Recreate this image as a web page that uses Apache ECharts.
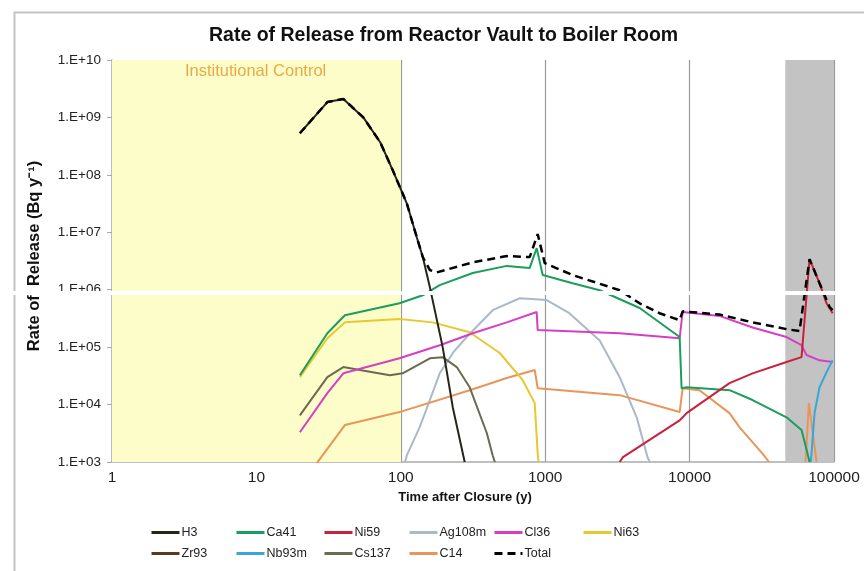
<!DOCTYPE html>
<html><head><meta charset="utf-8">
<script src="https://cdn.jsdelivr.net/npm/echarts@6/dist/echarts.min.js"></script>
<style>html,body{margin:0;padding:0;background:#fff}#c{width:864px;height:571px}</style>
</head><body><div id="c"></div>
<script>
// ---- data (years, Bq/y) ----
const xTicks = [1, 10, 100, 1000, 10000, 100000];
const yTicks = [1e3, 1e4, 1e5, 1e6, 1e7, 1e8, 1e9, 1e10];
const institutionalControl = [1, 100];
const shadedPeriod = [46000, 100000];

const h3 = [[20,5.3e8],[31,1.85e9],[40,2.1e9],[55,1.0e9],[72,3.7e8],[88,1.2e8],[110,3.2e7],[129,8.2e6],[142,3.7e6],[159,1.1e6],[195,1.0e5],[229,9e3],[277,1e3]];
const ca41 = [[20,3.25e4],[31,1.75e5],[41,3.6e5],[98,5.8e5],[142,8.0e5],[186,1.2e6],[315,1.95e6],[542,2.6e6],[781,2.4e6],[873,5.3e6],[961,1.8e6],[1549,1.3e6],[2384,9.8e5],[4508,4.8e5],[8530,1.5e5],[8800,1.93e4],[9530,2.0e4],[18900,1.78e4],[27300,1.2e4],[46900,6.0e3],[59600,3.6e3],[65600,1.4e3],[67700,1e3]];
const ni59 = [[3281,1e3],[3437,1.2e3],[8530,5.3e3],[8950,6.0e3],[9530,7.1e3],[18900,2.36e4],[27300,3.5e4],[46900,5.5e4],[59600,6.7e4],[67700,3.4e6],[79400,1.3e6],[88800,5.8e5],[97800,3.9e5]];
const ag108m = [[107,1e3],[110,1.3e3],[135,4e3],[159,1.2e4],[186,3.5e4],[230,8e4],[286,1.5e5],[433,4.4e5],[666,7.1e5],[1024,6.6e5],[1470,3.9e5],[2384,1.3e5],[3281,3.0e4],[4300,6e3],[5120,1.2e3],[5300,1e3]];
const cl36 = [[20,3.3e3],[31,1.58e4],[40,3.5e4],[98,6.4e4],[186,1.08e5],[315,1.75e5],[542,2.7e5],[873,4.1e5],[887,1.98e5],[3281,1.75e5],[8530,1.43e5],[8950,4.1e5],[16100,3.5e5],[27300,2.2e5],[46900,1.5e5],[59600,1.08e5],[64500,7.3e4],[79400,5.9e4],[97800,5.5e4]];
const ni63 = [[20,3.0e4],[31,1.43e5],[41,2.7e5],[98,3.1e5],[166,2.7e5],[300,1.82e5],[484,7.9e4],[699,2.66e4],[846,1.06e4],[887,1.4e3],[900,1e3]];
const zr93 = [];
const nb93m = [[69000,1e3],[69900,1.4e3],[73300,7.1e3],[79400,2.0e4],[88800,3.66e4],[97800,5.9e4]];
const cs137 = [[20,6.5e3],[31,3.0e4],[40,4.5e4],[52,4.0e4],[84,3.25e4],[103,3.5e4],[159,6.4e4],[195,6.7e4],[244,4.5e4],[300,2.0e4],[394,3.2e3],[433,1.3e3],[448,1e3]];
const c14 = [[20,380],[41,4.4e3],[98,7.4e3],[300,1.78e4],[542,2.9e4],[846,4.0e4],[887,1.93e4],[3281,1.46e4],[8530,7.4e3],[8950,1.93e4],[11700,1.78e4],[18900,7.1e3],[22200,4.0e3],[32000,1.4e3],[35500,1e3]];
const c14late = [[63500,1e3],[67000,1.06e4],[75700,1e3]];
const total = [[20,5.3e8],[31,1.85e9],[40,2.1e9],[55,1.0e9],[72,3.7e8],[88,1.2e8],[110,3.2e7],[129,8.2e6],[142,3.7e6],[159,2.2e6],[177,2.0e6],[315,3.0e6],[542,3.85e6],[781,3.7e6],[887,9.3e6],[993,2.9e6],[1549,1.8e6],[3281,9.8e5],[4508,5.8e5],[6190,3.9e5],[8530,2.95e5],[8950,4.2e5],[16100,3.7e5],[27300,2.7e5],[46900,2.06e5],[57700,1.9e5],[67700,3.4e6],[79400,1.3e6],[93200,5.0e5],[97800,4.4e5]];

const FONT = 'Liberation Sans, Arial, sans-serif';
const colors = {H3:'#262618', Ca41:'#1a9e5c', Ni59:'#c8213c', Ag108m:'#a9b9c8', Cl36:'#d63fc4', Ni63:'#e6c92e', Zr93:'#5b3b1e', Nb93m:'#3aa6d8', Cs137:'#6b6b4f', C14:'#e8955a', Total:'#000000'};

function line(name, data, extra) {
  return Object.assign({
    name, type:'line', data, symbol:'none', showSymbol:false, clip:true, z:3,
    lineStyle:{color:colors[name], width:2}, itemStyle:{color:colors[name]}
  }, extra || {});
}

const series = [
  { name:'bg', type:'line', data:[], z:-1, silent:true,
    markArea:{ silent:true, data:[
      [{xAxis:institutionalControl[0], itemStyle:{color:'#fdfdc9'}},{xAxis:institutionalControl[1]}],
      [{xAxis:shadedPeriod[0], itemStyle:{color:'#c3c3c3'}},{xAxis:shadedPeriod[1]}]
    ]}},
  line('Ag108m', ag108m),
  line('C14', c14),
  line('C14', c14late),
  line('Cs137', cs137),
  line('Ni63', ni63),
  line('Cl36', cl36),
  line('Nb93m', nb93m),
  line('Zr93', zr93),
  line('Ca41', ca41),
  line('Ni59', ni59),
  line('H3', h3),
  line('Total', total, {lineStyle:{color:'#000', width:2.5, type:[8,5]}, z:4})
];

const legendRows = [
  [['H3',145],['Ca41',230],['Ni59',318],['Ag108m',403],['Cl36',488],['Ni63',577]],
  [['Zr93',145],['Nb93m',230],['Cs137',318],['C14',403],['Total',488]]
];
const legends = [];
legendRows.forEach((row, r) => row.forEach(([n, left]) => legends.push({
  data:[n], left, top: r === 0 ? 521 : 542, itemWidth:28, itemHeight:14, itemGap:2,
  itemStyle:{opacity:0}, lineStyle:{width:3},
  textStyle:{fontFamily:FONT, fontSize:12.5, color:'#222', padding:[0,0,0,-3]}, selectedMode:false
})));

const chart = echarts.init(document.getElementById('c'), null, {renderer:'canvas'});
chart.setOption({
  animation:false,
  backgroundColor:'#fff',
  title:{ text:'Rate of Release from Reactor Vault to Boiler Room', left:204, top:21,
    textStyle:{fontFamily:FONT, fontSize:19.5, fontWeight:'bold', color:'#111'} },
  legend: legends,
  grid:{ left:112, right:30, top:60, bottom:109 },
  xAxis:{ type:'log', logBase:10, min:xTicks[0], max:xTicks[xTicks.length-1], interval:1,
    name:'Time after Closure (y)', nameLocation:'middle', nameGap:27,
    nameTextStyle:{fontFamily:FONT, fontSize:13, fontWeight:'bold', color:'#111', padding:[0,16,0,0]},
    axisLine:{lineStyle:{color:'#aaa', width:1.5}}, axisTick:{show:false},
    axisLabel:{fontFamily:FONT, fontSize:15.5, color:'#222', margin:8, formatter:v => String(Math.round(v))},
    splitLine:{show:true, lineStyle:{color:'#999', width:1.2}} },
  yAxis:{ type:'log', logBase:10, min:yTicks[0], max:yTicks[yTicks.length-1], interval:1,
    name:'Rate of  Release (Bq y\u207B\u00B9)', nameLocation:'middle', nameGap:69, nameRotate:90,
    nameTextStyle:{fontFamily:FONT, fontSize:16.5, fontWeight:'bold', color:'#111', padding:[0,0,0,10]},
    axisLine:{show:true, lineStyle:{color:'#aaa', width:1.5}},
    axisTick:{show:true, length:5, lineStyle:{color:'#aaa'}},
    axisLabel:{fontFamily:FONT, fontSize:13.5, color:'#222', margin:11,
      formatter:v => '1.E+' + String(Math.round(Math.log10(v))).padStart(2,'0')},
    splitLine:{show:false} },
  graphic:[
    { type:'rect', left:12, top:10, shape:{width:900, height:600}, style:{fill:'none', stroke:'#c4c4c4', lineWidth:2}, z:-10, silent:true },
    { type:'text', left:185, top:63, style:{text:'Institutional Control', fill:'#e9a945', font:'16.5px ' + FONT}, z:10 },
    { type:'rect', left:0, top:291, shape:{width:864, height:4}, style:{fill:'#fff'}, z:100, silent:true }
  ],
  series
});
</script></body></html>
